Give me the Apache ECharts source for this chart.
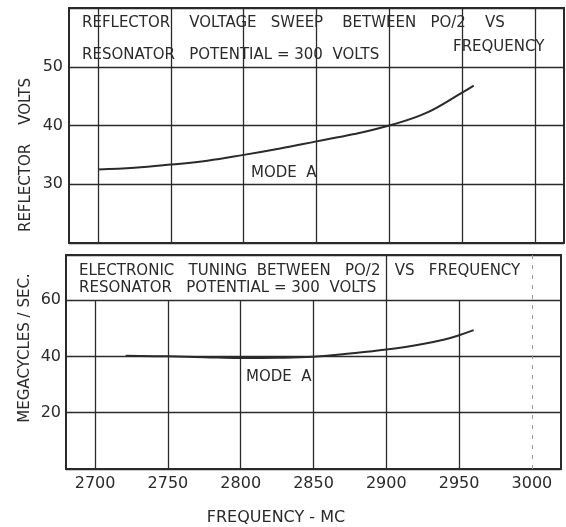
<!DOCTYPE html>
<html>
<head>
<meta charset="utf-8">
<title>Reflector voltage and electronic tuning vs frequency</title>
<script src="https://cdn.jsdelivr.net/npm/echarts@6/dist/echarts.min.js"></script>
<style>
  html, body { margin: 0; padding: 0; background: #fff; }
  #chart { width: 566px; height: 527px; }
</style>
</head>
<body>
<div id="chart"></div>
<script>
// frequency (MC) of the points
const voltFreq = [2700, 2725, 2750, 2775, 2800, 2825, 2850, 2875, 2900, 2925, 2950, 2958]
// reflector volts, mode A
const voltValues = [32.5, 32.8, 33.35, 34.0, 35.0, 36.1, 37.3, 38.5, 40.0, 42.1, 45.6, 46.8]

const tuneFreq = [2721, 2750, 2775, 2800, 2825, 2850, 2875, 2900, 2925, 2940, 2950, 2960]
// electronic tuning, megacycles / sec, mode A
const tuneValues = [40.2, 40.0, 39.7, 39.4, 39.5, 39.9, 41.0, 42.4, 44.4, 46.0, 47.5, 49.3]

const freqTicks = [2700, 2750, 2800, 2850, 2900, 2950, 3000]
const voltTicks = [30, 40, 50]
const tuneTicks = [20, 40, 60]

const ink = '#2a2a2a'
const font = 'DejaVu Sans'

let chart = echarts.init(document.getElementById('chart'))

function pairs (xs, ys) {
    return xs.map((x, i) => [x, ys[i]])
}

// grid lines drawn as mark lines so they can sit on round frequencies
let topVerticals = freqTicks.map(f => ({ xAxis: f }))
let bottomVerticals = freqTicks.map(f => {
    if (f === 3000) {
        return [{ coord: [f, 0], lineStyle: { type: [4, 6], color: '#999', width: 1 } }, { coord: [f, 76] }]
    }
    return [{ coord: [f, 0] }, { coord: [f, f === 2900 ? 76 : 60] }]
})

function xAxisFor (gridIndex, showLabels) {
    return {
        type: 'value',
        gridIndex: gridIndex,
        min: 2680,
        max: 3020,
        interval: 10,
        axisLine: { show: false },
        axisTick: { show: false },
        splitLine: { show: false },
        axisLabel: {
            show: showLabels,
            margin: 7,
            color: ink,
            fontFamily: font,
            fontSize: 16,
            formatter: v => (freqTicks.includes(v) ? String(v) : '')
        }
    }
}

function yAxisFor (gridIndex, min, max, interval, ticks, margin) {
    return {
        type: 'value',
        gridIndex: gridIndex,
        min: min,
        max: max,
        interval: interval,
        axisLine: { show: false },
        axisTick: { show: false },
        splitLine: { show: true, lineStyle: { color: ink, width: 1.3 } },
        axisLabel: {
            margin: margin,
            color: ink,
            fontFamily: font,
            fontSize: 16,
            formatter: v => (ticks.includes(v) ? String(v) : '')
        }
    }
}

function textItem (x, y, text, size, extra) {
    let item = {
        type: 'text',
        x: x,
        y: y,
        z: 10,
        style: {
            text: text,
            fill: ink,
            font: size + 'px "' + font + '"',
            verticalAlign: 'middle'
        }
    }
    if (extra) {
        Object.assign(item.style, extra.style || {})
        if (extra.rotation) item.rotation = extra.rotation
    }
    return item
}

chart.setOption({
    backgroundColor: '#fff',
    animation: false,
    grid: [
        { left: 69, right: 2, top: 8, height: 235, show: true, borderColor: ink, borderWidth: 2, backgroundColor: 'transparent' },
        { left: 66, right: 5, top: 255, height: 214, show: true, borderColor: ink, borderWidth: 2, backgroundColor: 'transparent' }
    ],
    xAxis: [xAxisFor(0, false), xAxisFor(1, true)],
    yAxis: [yAxisFor(0, 20, 60, 10, voltTicks, 6), yAxisFor(1, 0, 76, 20, tuneTicks, 5)],
    series: [
        {
            type: 'line',
            xAxisIndex: 0,
            yAxisIndex: 0,
            data: pairs(voltFreq, voltValues),
            smooth: 0.4,
            showSymbol: false,
            lineStyle: { color: ink, width: 2 },
            markLine: {
                silent: true,
                symbol: 'none',
                label: { show: false },
                lineStyle: { color: ink, width: 1.3, type: 'solid' },
                data: topVerticals
            }
        },
        {
            type: 'line',
            xAxisIndex: 1,
            yAxisIndex: 1,
            data: pairs(tuneFreq, tuneValues),
            smooth: 0.4,
            showSymbol: false,
            lineStyle: { color: ink, width: 2 },
            markLine: {
                silent: true,
                symbol: 'none',
                label: { show: false },
                lineStyle: { color: ink, width: 1.3, type: 'solid' },
                data: bottomVerticals
            }
        }
    ],
    graphic: [
        textItem(82, 23, 'REFLECTOR    VOLTAGE   SWEEP    BETWEEN   PO/2    VS', 15),
        textItem(82, 55, 'RESONATOR   POTENTIAL = 300  VOLTS', 15),
        textItem(453, 47, 'FREQUENCY', 15),
        textItem(251, 173, 'MODE  A', 15),
        textItem(79, 271, 'ELECTRONIC   TUNING  BETWEEN   PO/2   VS   FREQUENCY', 15),
        textItem(79, 288, 'RESONATOR   POTENTIAL = 300  VOLTS', 15),
        textItem(246, 377, 'MODE  A', 15),
        textItem(276, 518, 'FREQUENCY - MC', 16, { style: { align: 'center' } }),
        textItem(26, 155, 'REFLECTOR    VOLTS', 15, { rotation: Math.PI / 2, style: { align: 'center' } }),
        textItem(25, 348, 'MEGACYCLES / SEC.', 15, { rotation: Math.PI / 2, style: { align: 'center' } })
    ]
})
</script>
</body>
</html>
